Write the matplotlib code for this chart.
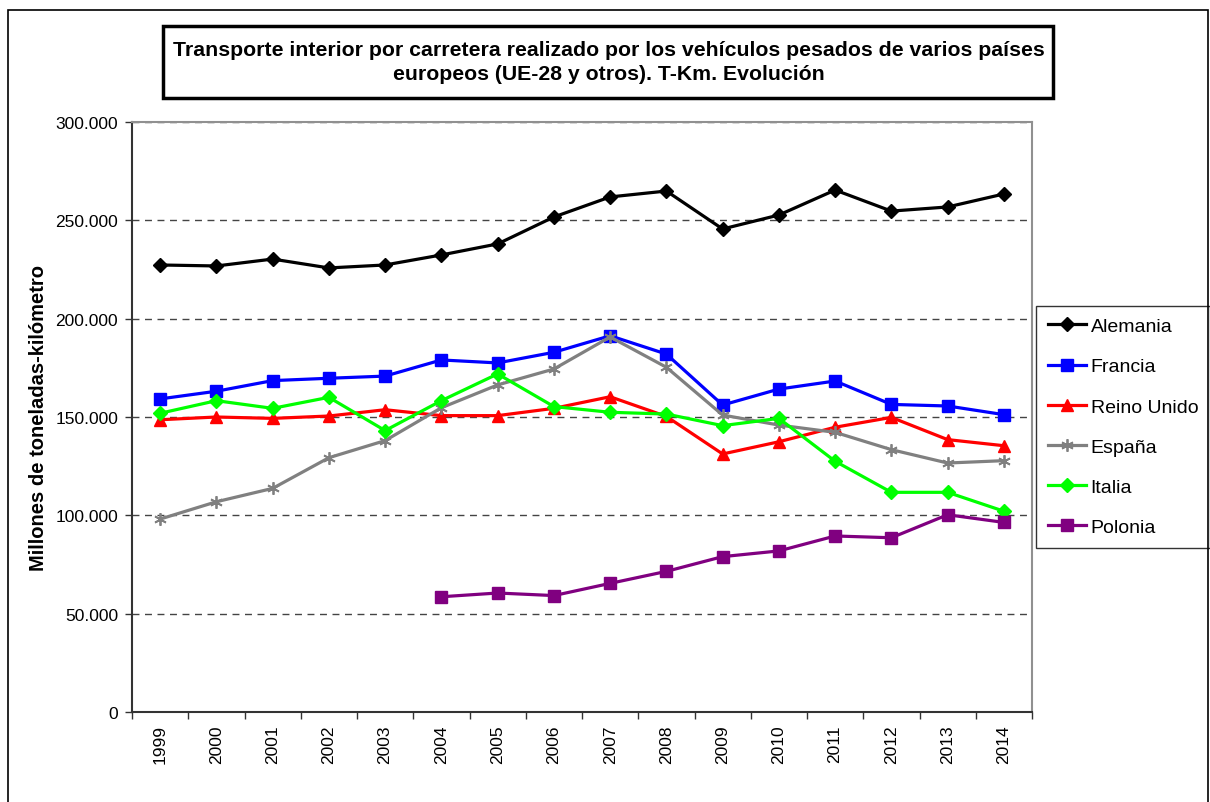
import numpy as np
import matplotlib
matplotlib.use('Agg')
import matplotlib.pyplot as plt
from matplotlib.patches import Rectangle
from matplotlib.ticker import FuncFormatter

plt.rcParams['font.family'] = ['Liberation Sans', 'DejaVu Sans']

years = ['1999', '2000', '2001', '2002', '2003', '2004', '2005', '2006',
         '2007', '2008', '2009', '2010', '2011', '2012', '2013', '2014']

alemania = [227300, 226800, 230300, 225800, 227300, 232400, 238000, 251700,
            261900, 264900, 245600, 252700, 265400, 254700, 256800, 263400]
francia = [159200, 163100, 168500, 169700, 170800, 179000, 177500, 182900,
           191300, 182000, 156100, 164200, 168300, 156400, 155600, 151200]
reino_unido = [148600, 150000, 149300, 150500, 153700, 150700, 150700, 154400,
               160300, 150300, 131200, 137400, 144800, 149800, 138500, 135400]
espana = [98100, 106900, 113700, 129300, 138000, 154700, 166300, 174400,
          190700, 175300, 151000, 145900, 142200, 133400, 126600, 127800]
italia = [151900, 158300, 154400, 160000, 143100, 158300, 171900, 155300,
          152400, 151500, 145600, 149300, 127500, 111700, 111700, 102100]
# Polonia only from 2004
polonia = [np.nan] * 5 + [58600, 60500, 59200, 65400, 71500, 79000, 81900,
                          89500, 88600, 100300, 96400]

series = [
    ('Alemania', alemania, '#000000', 'D', 7),
    ('Francia', francia, '#0000FF', 's', 8),
    ('Reino Unido', reino_unido, '#FF0000', '^', 8),
    ('España', espana, '#808080', (6, 2, 0), 9),
    ('Italia', italia, '#00FF00', 'D', 7),
    ('Polonia', polonia, '#800080', 's', 8),
]

fig = plt.figure(figsize=(12.1, 8.03), dpi=100)
ax = fig.add_axes([132 / 1210, 90 / 803, 900 / 1210, 590 / 803])

x = np.arange(len(years))
for name, vals, col, mk, ms in series:
    ax.plot(x, vals, color=col, lw=2.3, marker=mk, markersize=ms,
            markeredgewidth=1.3 if mk == (6, 2, 0) else 1,
            markeredgecolor=col, markerfacecolor=col, label=name, zorder=3)

ax.set_xlim(-0.5, len(years) - 0.5)
ax.set_ylim(0, 300000)
ax.set_yticks(np.arange(0, 300001, 50000))
ax.yaxis.set_major_formatter(FuncFormatter(
    lambda v, p: '0' if v == 0 else f'{int(v):,}'.replace(',', '.')))
ax.yaxis.grid(True, linestyle=(0, (5, 4)), color='#444444', lw=1)
ax.set_axisbelow(True)

ax.set_xticks(x)
ax.set_xticklabels(years, rotation=90, fontsize=12.5)
ax.set_xticks(np.arange(-0.5, len(years)), minor=True)
ax.tick_params(axis='x', which='major', length=0, pad=9)
ax.tick_params(axis='x', which='minor', length=5, width=1, color='#333333')
ax.tick_params(axis='y', labelsize=12.5, length=5, width=1, color='#333333',
               pad=5)

for s in ['top', 'right']:
    ax.spines[s].set_color('#909090')
    ax.spines[s].set_linewidth(1.5)
for s in ['left', 'bottom']:
    ax.spines[s].set_color('#333333')
    ax.spines[s].set_linewidth(1.5)

ax.set_ylabel('Millones de toneladas-kilómetro', fontsize=14.5,
              fontweight='bold', labelpad=5)

leg = ax.legend(loc='upper left', bbox_to_anchor=(1036 / 1210, 1 - 307 / 803),
                bbox_transform=fig.transFigure, fontsize=14, frameon=True,
                fancybox=False, edgecolor='#000000', handlelength=1.95,
                handletextpad=0.26, labelspacing=1.16, borderpad=0.6,
                borderaxespad=0)
leg.get_frame().set_linewidth(1)

# title box
fig.patches.append(Rectangle((163 / 1210, 1 - 99 / 803), 890 / 1210, 72 / 803,
                             transform=fig.transFigure, fill=False,
                             edgecolor='black', lw=2.5))
fig.text(0.503, 1 - 62.5 / 803,
         'Transporte interior por carretera realizado por los vehículos pesados de varios países\n'
         'europeos (UE-28 y otros). T-Km. Evolución',
         ha='center', va='center', fontsize=15.3, fontweight='bold',
         linespacing=1.4)

# outer border
fig.patches.append(Rectangle((8 / 1210, -0.05), 1200 / 1210, 0.05 + 1 - 11 / 803,
                             transform=fig.transFigure, fill=False,
                             edgecolor='black', lw=1.2))

fig.savefig('out.png', dpi=100)
